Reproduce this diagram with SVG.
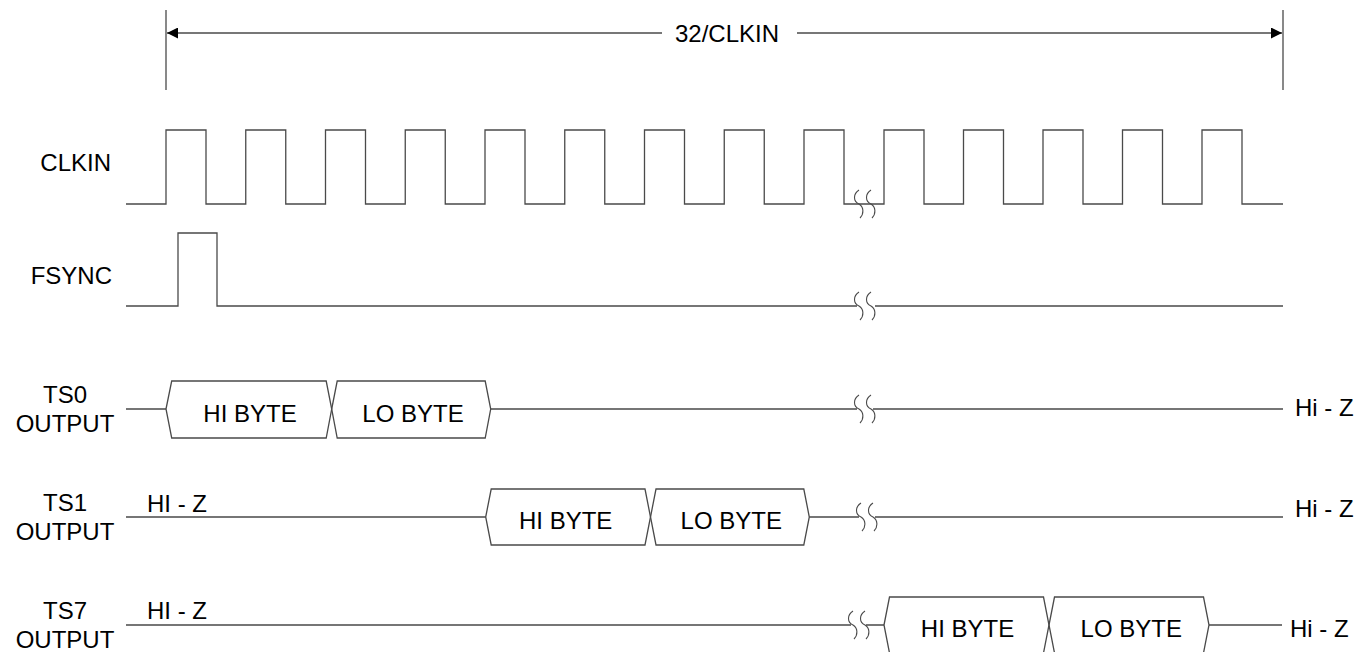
<svg xmlns="http://www.w3.org/2000/svg" width="1372" height="652" viewBox="0 0 1372 652">
<style>
.w{fill:none;stroke:#4a4a4a;stroke-width:1.3}
.b{fill:none;stroke:#4a4a4a;stroke-width:1.1}
text{font-family:"Liberation Sans",Arial,sans-serif;font-size:24px;fill:#000}
.m{text-anchor:middle}
.e{text-anchor:end}
</style>
<defs>
<marker id="ah" viewBox="0 0 11 11" refX="11" refY="5.5" markerWidth="11" markerHeight="11" markerUnits="userSpaceOnUse" orient="auto">
<path d="M0,0 L11,5.5 L0,11 Z" fill="#000"/>
</marker>
<path id="brk" class="b" d="M0,-14 C-6,-10 -6,-3 0,0 C5,3 5,10 1,14"/>
</defs>
<rect width="1372" height="652" fill="#fff"/>

<g id="dimension">
<line class="w" x1="166" y1="10" x2="166" y2="90"/>
<line class="w" x1="1283" y1="10" x2="1283" y2="90"/>
<line class="w" x1="662" y1="33" x2="167" y2="33" marker-end="url(#ah)"/>
<line class="w" x1="797" y1="33" x2="1282" y2="33" marker-end="url(#ah)"/>
<text class="m" x="727" y="42">32/CLKIN</text>
</g>

<g id="labels">
<text class="e" x="111" y="171">CLKIN</text>
<text class="e" x="112" y="284">FSYNC</text>
<text class="m" x="65" y="403">TS0</text>
<text class="m" x="65" y="432">OUTPUT</text>
<text class="m" x="65" y="511">TS1</text>
<text class="m" x="65" y="540">OUTPUT</text>
<text class="m" x="65" y="619">TS7</text>
<text class="m" x="65" y="648">OUTPUT</text>
</g>

<g id="connectors">
<path id="clkin" class="w" d="M126,204 H166 V130 H206 V204 H245.75 V130 H285.75 V204 H325.5 V130 H365.5 V204 H405.25 V130 H445.25 V204 H485 V130 H525 V204 H564.75 V130 H604.75 V204 H644.5 V130 H684.5 V204 H724.25 V130 H764.25 V204 H804 V130 H844 V204 H884 V130 H924 V204 H963.5 V130 H1003.5 V204 H1043 V130 H1083 V204 H1122.5 V130 H1162.5 V204 H1202 V130 H1242 V204 H1283"/>
<path id="fsync" class="w" d="M126,306 H178 V233 H217 V306 H857 M875,306 H1283"/>
<path id="ts0line" class="w" d="M126,409 H166 M490.7,409 H857 M873,409 H1283"/>
<path id="ts1line" class="w" d="M126,517 H485.7 M809.3,517 H859 M875,517 H1283"/>
<path id="ts7line" class="w" d="M126,625 H851 M866,625 H884 M1209,625 H1282"/>
<use href="#brk" x="859" y="204"/><use href="#brk" x="871" y="204"/>
<use href="#brk" x="859" y="306"/><use href="#brk" x="871" y="306"/>
<use href="#brk" x="859" y="409"/><use href="#brk" x="871" y="409"/>
<use href="#brk" x="861" y="517"/><use href="#brk" x="873" y="517"/>
<use href="#brk" x="853" y="625"/><use href="#brk" x="865" y="625"/>
</g>

<g id="ts0-hi">
<path class="w" d="M166,409 L171.7,381 H326.2 L331.7,409 L326.2,438 H171.7 Z"/>
<text class="m" x="250" y="421.5">HI BYTE</text>
</g>
<g id="ts0-lo">
<path class="w" d="M331.7,409 L337.2,381 H485.2 L490.7,409 L485.2,438 H337.2 Z"/>
<text class="m" x="413" y="421.5">LO BYTE</text>
</g>
<g id="ts1-hi">
<path class="w" d="M485.7,517 L491.2,489 H645 L650.5,517 L645,545 H491.2 Z"/>
<text class="m" x="565.7" y="529.3">HI BYTE</text>
</g>
<g id="ts1-lo">
<path class="w" d="M650.5,517 L656,489 H803.8 L809.3,517 L803.8,545 H656 Z"/>
<text class="m" x="731.3" y="529.3">LO BYTE</text>
</g>
<g id="ts7-hi">
<path class="w" d="M884,625 L889.5,597 H1043.5 L1049,625 L1043.5,653 H889.5 Z"/>
<text class="m" x="967.5" y="636.7">HI BYTE</text>
</g>
<g id="ts7-lo">
<path class="w" d="M1049,625 L1054.5,597 H1203.5 L1209,625 L1203.5,653 H1054.5 Z"/>
<text class="m" x="1131.3" y="636.7">LO BYTE</text>
</g>

<g id="hiz">
<text x="147" y="511.5">HI - Z</text>
<text x="147" y="619">HI - Z</text>
<text x="1295" y="416">Hi - Z</text>
<text x="1295" y="517">Hi - Z</text>
<text x="1290" y="637">Hi - Z</text>
</g>
</svg>
